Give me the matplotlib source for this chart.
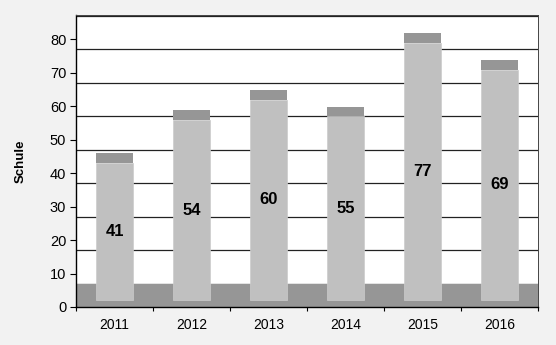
import numpy as np
import matplotlib.pyplot as plt

plt.rcParams['font.family'] = ['Liberation Sans', 'DejaVu Sans']

# data
years = ['2011', '2012', '2013', '2014', '2015', '2016']
values = [41, 54, 60, 55, 77, 69]

# pseudo-3D look of the old spreadsheet chart
floor_h = 7      # dark floor band
bar_base = 2     # bars start slightly above 0
cap_h = 2.9      # dark top face of each bar
light = '#c0c0c0'
dark = '#969696'

fig = plt.figure(figsize=(5.56, 3.45), dpi=100)
fig.patch.set_facecolor('#f2f2f2')
ax = fig.add_axes([76 / 556, 1 - 307 / 345, 462 / 556, 292 / 345])
ax.set_facecolor('white')

x = np.arange(len(years))
ax.set_xlim(-0.5, len(years) - 0.5)
ax.set_ylim(0, 87.3)

# gridlines shifted up by the floor depth
for t in range(0, 90, 10):
    if t + floor_h < 87.3:
        ax.axhline(t + floor_h, color='#222222', lw=0.9, zorder=1)

ax.axhspan(0, floor_h, color=dark, zorder=2, lw=0)

bw = 0.485
ax.bar(x, values, bottom=bar_base, width=bw, color=light, edgecolor='#cccccc',
       lw=0.5, zorder=3)
ax.bar(x, [cap_h] * len(values), bottom=np.array(values) + bar_base, width=bw,
       color=dark, lw=0, zorder=3)

for xi, v in zip(x, values):
    ax.text(xi, bar_base + v / 2, str(v), ha='center', va='center',
            fontsize=12, fontweight='bold', color='black', zorder=4)

ax.set_yticks(range(0, 90, 10))
ax.tick_params(axis='y', direction='out', length=4, width=0.8, labelsize=10.5,
               pad=3)
ax.set_xticks(np.arange(len(years) + 1) - 0.5)
ax.set_xticklabels([])
ax.set_xticks(x, minor=True)
ax.set_xticklabels(years, minor=True, fontsize=10)
ax.tick_params(axis='x', which='major', direction='out', length=3, width=0.8)
ax.tick_params(axis='x', which='minor', length=0, pad=8)

ax.set_ylabel('Schule', fontsize=9.5, fontweight='bold', labelpad=17)

for s in ['left', 'bottom']:
    ax.spines[s].set_color('black')
    ax.spines[s].set_linewidth(1)
for s in ['top', 'right']:
    ax.spines[s].set_color('#444444')
    ax.spines[s].set_linewidth(0.7)

fig.savefig('out.png', dpi=100, facecolor=fig.get_facecolor())
